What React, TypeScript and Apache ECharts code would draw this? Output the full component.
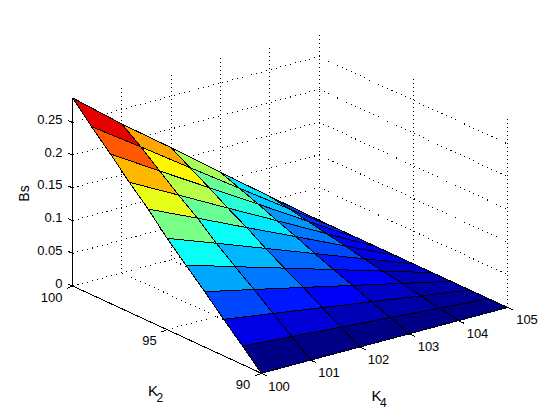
import React, { useEffect, useRef } from "react";
import * as echarts from "echarts";

const k2Values = [90, 91, 92, 93, 94, 95, 96, 97, 98, 99, 100];
const k4Values = [100, 101, 102, 103, 104, 105];
// Bs: one row per K2 (90..100), one column per K4 (100..105)
const bsK2_90 = [0, 0, 0, 0, 0, 0];
const bsK2_91 = [0.0284, 0.0227, 0.017, 0.0114, 0.0057, 0];
const bsK2_92 = [0.0558, 0.0447, 0.0335, 0.0223, 0.0112, 0];
const bsK2_93 = [0.0847, 0.068, 0.051, 0.034, 0.017, 0];
const bsK2_94 = [0.112, 0.0895, 0.0672, 0.0448, 0.0224, 0];
const bsK2_95 = [0.1397, 0.112, 0.084, 0.0559, 0.0279, 0];
const bsK2_96 = [0.171, 0.137, 0.1025, 0.0685, 0.0342, 0];
const bsK2_97 = [0.1986, 0.159, 0.119, 0.0795, 0.0398, 0];
const bsK2_98 = [0.2286, 0.1824, 0.137, 0.0915, 0.0455, 0];
const bsK2_99 = [0.2569, 0.206, 0.154, 0.1025, 0.0512, 0];
const bsK2_100 = [0.2875, 0.2275, 0.1712, 0.1134, 0.0565, 0];
const bsRows = [bsK2_90, bsK2_91, bsK2_92, bsK2_93, bsK2_94, bsK2_95, bsK2_96, bsK2_97, bsK2_98, bsK2_99, bsK2_100];

const zTicks = [0, 0.05, 0.1, 0.15, 0.2, 0.25];
const zTickLabels = ["0", "0.05", "0.1", "0.15", "0.2", "0.25"];
const k2Ticks = [100, 95, 90];
const k4Ticks = [100, 101, 102, 103, 104, 105];
const zMax = 0.2875;

// orthographic projection of the MATLAB view
const ORIGIN = [72.7, 286];
const PER_K2 = [18.87, 8.73]; // one unit of decreasing K2
const PER_K4 = [49.26, -13.16];
const PER_Z = -654; // pixels per unit of Bs

function project(k2: number, k4: number, z: number): number[] {
  const a = 100 - k2;
  const b = k4 - 100;
  return [ORIGIN[0] + a * PER_K2[0] + b * PER_K4[0], ORIGIN[1] + a * PER_K2[1] + b * PER_K4[1] + z * PER_Z];
}

function jet(z: number): string {
  const i = Math.min(63, Math.floor((z / zMax) * 64));
  const t = (i + 0.5) / 64;
  const c = (v: number) => Math.round(255 * Math.max(0, Math.min(1, 1.5 - Math.abs(4 * t - v))));
  return `rgb(${c(3)},${c(2)},${c(1)})`;
}

const FONT = "Liberation Sans";
const dottedFlat = { stroke: "#000", lineWidth: 1, lineDash: [1, 4], fill: "none" };
const dottedUp = { stroke: "#000", lineWidth: 1, lineDash: [1, 3], fill: "none" };
const solid = { stroke: "#000", lineWidth: 1, fill: "none" };

function seg(a: number[], b: number[], style: any) {
  return { type: "polyline", shape: { points: [a, b] }, style, silent: true };
}

function label(text: string, x: number, y: number, align: string, size = 13) {
  return {
    type: "text",
    x,
    y,
    silent: true,
    style: { text, fill: "#000", font: `${size}px "${FONT}"`, align, verticalAlign: "middle" },
  };
}

function wallsAndFloor() {
  const out: any[] = [];
  // wall at K2 = 100 and wall at K4 = 105: horizontal lines at each Bs tick
  zTicks.forEach((z) => {
    out.push(seg(project(100, 100, z), project(100, 105, z), dottedFlat));
    out.push(seg(project(100, 105, z), project(90, 105, z), dottedFlat));
  });
  k4Ticks.slice(1).forEach((k4) => {
    out.push(seg(project(100, k4, 0), project(100, k4, zMax), dottedUp));
    if (k4 < 105) out.push(seg(project(100, k4, 0), project(90, k4, 0), dottedFlat));
  });
  k2Ticks.slice(1).forEach((k2) => {
    out.push(seg(project(k2, 105, 0), project(k2, 105, zMax), dottedUp));
    if (k2 > 90) out.push(seg(project(k2, 100, 0), project(k2, 105, 0), dottedFlat));
  });
  return out;
}

function axisLines() {
  const out: any[] = [];
  out.push(seg(project(100, 100, 0), project(100, 100, zMax), solid));
  out.push(seg(project(100, 100, 0), project(90, 100, 0), solid));
  out.push(seg(project(90, 100, 0), project(90, 105, 0), solid));
  zTicks.forEach((z) => {
    const p = project(100, 100, z);
    out.push(seg(p, [p[0] - 5, p[1] - 2], solid));
  });
  k2Ticks.forEach((k2) => {
    const p = project(k2, 100, 0);
    out.push(seg(p, [p[0] - 6, p[1] + 2.5], solid));
  });
  k4Ticks.forEach((k4) => {
    const p = project(90, k4, 0);
    out.push(seg(p, [p[0] + 5.7, p[1] + 2.6], solid));
  });
  return out;
}

function axisTexts() {
  const out: any[] = [];
  zTicks.forEach((z, i) => {
    const p = project(100, 100, z);
    out.push(label(zTickLabels[i], 62.5, p[1] - 3, "right"));
  });
  out.push(label(String(k2Ticks[0]), 62.5, 297.7, "right"));
  out.push(label(String(k2Ticks[1]), 149.5, 340.5, "center"));
  out.push(label(String(k2Ticks[2]), 243, 384, "center"));
  const k4LabelPos = [[279, 386], [329, 372.5], [378.5, 359], [428.5, 346], [477.5, 333], [527, 319]];
  k4Ticks.forEach((k4, i) => {
    out.push(label(String(k4), k4LabelPos[i][0], k4LabelPos[i][1], "center"));
  });
  out.push({
    type: "text",
    x: 24,
    y: 193.5,
    rotation: Math.PI / 2,
    silent: true,
    style: { text: "Bs", fill: "#000", font: `14px "${FONT}"`, align: "center", verticalAlign: "middle" },
  });
  out.push(label("K", 148, 390.7, "left", 15));
  out.push(label("2", 156.5, 397.5, "left", 12));
  out.push(label("K", 371.5, 395, "left", 15));
  out.push(label("4", 380, 402.5, "left", 12));
  return out;
}

// one cell per lower K2 / lower K4 vertex, far cells first
const cells: number[][] = [];
for (let i = k2Values.length - 2; i >= 0; i--) {
  for (let j = k4Values.length - 2; j >= 0; j--) {
    cells.push([i, j]);
  }
}

export default function App() {
  const ref = useRef<HTMLDivElement>(null);
  useEffect(() => {
    document.body.style.margin = "0";
    const chart = echarts.init(ref.current!, undefined, { renderer: "svg" });
    chart.setOption({
      animation: false,
      backgroundColor: "#fff",
      series: [
        {
          type: "custom",
          coordinateSystem: "none",
          silent: true,
          data: [0],
          z: 1,
          renderItem: () => ({ type: "group", children: wallsAndFloor() }),
        },
        {
          type: "custom",
          coordinateSystem: "none",
          silent: true,
          data: [0],
          z: 2,
          renderItem: () => ({ type: "group", children: axisLines() }),
        },
        {
          type: "custom",
          coordinateSystem: "none",
          silent: true,
          data: cells,
          z: 3,
          renderItem: (_: any, api: any) => {
            const i = api.value(0);
            const j = api.value(1);
            const pts = [
              project(k2Values[i], k4Values[j], bsRows[i][j]),
              project(k2Values[i + 1], k4Values[j], bsRows[i + 1][j]),
              project(k2Values[i + 1], k4Values[j + 1], bsRows[i + 1][j + 1]),
              project(k2Values[i], k4Values[j + 1], bsRows[i][j + 1]),
            ];
            return {
              type: "polygon",
              shape: { points: pts },
              style: { fill: jet(bsRows[i][j]), stroke: "#000", lineWidth: 1 },
            };
          },
        },
        {
          type: "custom",
          coordinateSystem: "none",
          silent: true,
          data: [0],
          z: 4,
          renderItem: () => ({ type: "group", children: axisTexts() }),
        },
      ],
    });
    return () => chart.dispose();
  }, []);
  return (
    <div
      ref={ref}
      style={{ position: "absolute", left: 0, top: 0, width: 560, height: 420, shapeRendering: "crispEdges" } as any}
    />
  );
}
